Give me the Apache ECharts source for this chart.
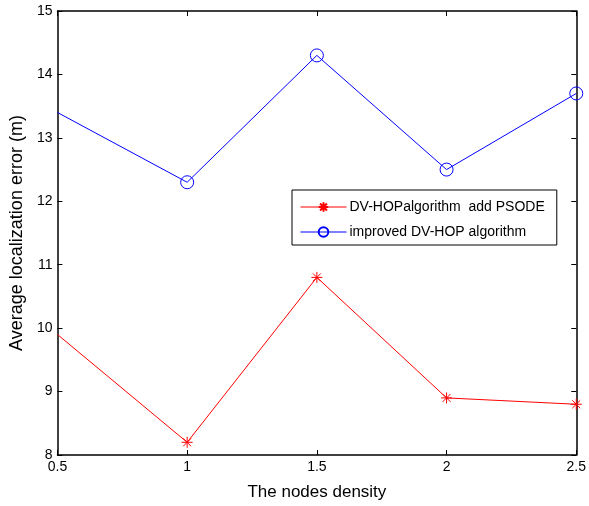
<!DOCTYPE html>
<html>
<head>
<meta charset="utf-8">
<script src="https://cdn.jsdelivr.net/npm/echarts@6/dist/echarts.min.js"></script>
<style>
  html, body { margin: 0; padding: 0; background: #fff; }
  #chart { width: 589px; height: 506px; }
</style>
</head>
<body>
<div id="chart"></div>
<script>
// node density values on x axis
var density = [0.5, 1, 1.5, 2, 2.5];
var psodeErr = [9.9, 8.2, 10.8, 8.9, 8.8];
var improvedErr = [13.4, 12.3, 14.3, 12.5, 13.7];
var seriesNames = ['DV-HOPalgorithm  add PSODE', 'improved DV-HOP algorithm'];

// first point sits on the left border in the original, no marker drawn there
function pairs(ys) {
  return density.map(function (x, i) {
    var p = { value: [x, ys[i]] };
    if (i === 0) p.symbol = 'none';
    return p;
  });
}

var star = 'path://M0,-5L0,5M-5,0L5,0M-3.6,-3.6L3.6,3.6M-3.6,3.6L3.6,-3.6';
var font = 'Liberation Sans, Arial, sans-serif';

var chart = echarts.init(document.getElementById('chart'));

var axisLine = { show: true, lineStyle: { color: '#000', width: 1.5 } };
var tick = { show: true, inside: true, length: 5, lineStyle: { color: '#000' } };

var option = {
  animation: false,
  grid: { left: 57, top: 11, right: 10, bottom: 51 },
  legend: {
    orient: 'vertical',
    left: 292,
    top: 190,
    padding: [10, 12, 6, 8],
    itemGap: 11,
    itemWidth: 46,
    itemHeight: 12,
    borderColor: '#000',
    borderWidth: 1,
    data: seriesNames,
    lineStyle: { width: 1 },
    textStyle: { fontFamily: font, fontSize: 14, color: '#000', padding: [0, 0, 0, -2] }
  },
  xAxis: [{
    type: 'value', min: 0.5, max: 2.5, interval: 0.5,
    name: 'The nodes density', nameLocation: 'middle', nameGap: 29,
    nameTextStyle: { fontFamily: font, fontSize: 17, color: '#000' },
    axisLine: axisLine, axisTick: tick, splitLine: { show: false },
    axisLabel: { fontFamily: font, fontSize: 14, color: '#000', margin: 5 }
  }, {
    type: 'value', position: 'top', min: 0.5, max: 2.5, interval: 0.5,
    axisLine: axisLine, axisTick: tick, splitLine: { show: false },
    axisLabel: { show: false }
  }],
  yAxis: [{
    type: 'value', min: 8, max: 15, interval: 1,
    name: 'Average localization error (m)', nameLocation: 'middle', nameGap: 28,
    nameTextStyle: { fontFamily: font, fontSize: 18, color: '#000' },
    axisLine: axisLine, axisTick: tick, splitLine: { show: false },
    axisLabel: { fontFamily: font, fontSize: 14, color: '#000', margin: 5 }
  }, {
    type: 'value', position: 'right', min: 8, max: 15, interval: 1,
    axisLine: axisLine, axisTick: tick, splitLine: { show: false },
    axisLabel: { show: false }
  }],
  series: [{
    name: seriesNames[0],
    type: 'line',
    data: pairs(psodeErr),
    symbol: star,
    symbolSize: 11,
    lineStyle: { color: '#ff0000', width: 1 },
    itemStyle: { color: '#ff0000', borderColor: '#ff0000', borderWidth: 1 }
  }, {
    name: seriesNames[1],
    type: 'line',
    data: pairs(improvedErr),
    symbol: 'circle',
    symbolSize: 13,
    lineStyle: { color: '#0000ff', width: 1 },
    itemStyle: { color: 'transparent', borderColor: '#0000ff', borderWidth: 1 }
  }]
};

chart.setOption(option);
</script>
</body>
</html>
